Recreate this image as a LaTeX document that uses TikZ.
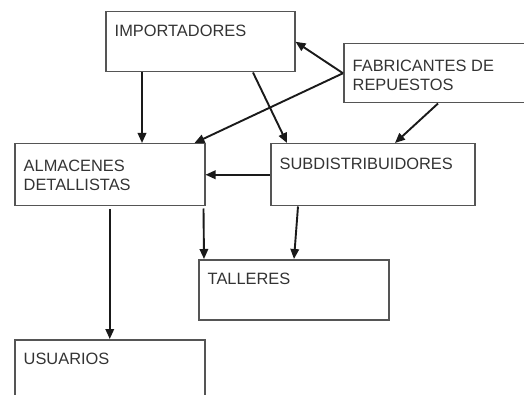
\documentclass[tikz,border=0pt]{standalone}
\usepackage{fontspec}
\setmainfont{Liberation Sans}
\usetikzlibrary{arrows.meta,calc}
\definecolor{boxc}{HTML}{555555}
\definecolor{txtc}{HTML}{333333}
\definecolor{arrc}{HTML}{1A1A1A}
\tikzset{
  box/.style={draw=boxc, line width=1.5pt, anchor=north west, inner sep=0pt, minimum width=#1},
  lbl/.style={anchor=north west, inner sep=0pt, text=txtc, align=left,
    font=\fontsize{16.4}{19}\selectfont, xshift=9.5pt},
  conn/.style={draw=arrc, line width=1.9pt, -{Triangle[length=10pt,width=8.5pt]}},
}
\begin{document}
\begin{tikzpicture}[x=1pt,y=-1pt]
\useasboundingbox (0,0) rectangle (524,395);
\clip (0,0) rectangle (524,395);
\node[box=189pt, minimum height=60pt, label={[lbl, yshift=-14pt]north west:IMPORTADORES}] (imp) at (105,11) {};
\node[box=200pt, minimum height=59pt, label={[lbl, yshift=-16.5pt]north west:FABRICANTES DE\\REPUESTOS}] (fab) at (343,43) {};
\node[box=190pt, minimum height=62pt, label={[lbl, yshift=-16.5pt]north west:ALMACENES\\DETALLISTAS}] (alm) at (14,143) {};
\node[box=204pt, minimum height=62pt, label={[lbl, yshift=-15pt]north west:SUBDISTRIBUIDORES}] (sub) at (270,143) {};
\node[box=190pt, minimum height=60pt, label={[lbl, yshift=-14pt]north west:TALLERES}] (tal) at (198,259) {};
\node[box=190pt, minimum height=75pt, label={[lbl, yshift=-14pt]north west:USUARIOS}] (usu) at (14,339) {};

\draw[conn] (fab.west) -- (imp.east);
\draw[conn] (fab.west) -- ($(alm.north east)+(-11,0)$);
\draw[conn] ($(imp.south west)+(37,0)$) -- ($(alm.north west)+(128,0)$);
\draw[conn] ($(imp.south west)+(148,0)$) -- ($(sub.north west)+(17,0)$);
\draw[conn] ($(fab.south west)+(95,0)$) -- ($(sub.north west)+(125,0)$);
\draw[conn] (sub.west) -- (alm.east);
\draw[conn] ($(alm.south)+(0,3)$) -- (usu.north);
\draw[conn] ($(alm.south east)+(-2,2)$) -- ($(tal.north west)+(6,0)$);
\draw[conn] ($(sub.south west)+(28,0)$) -- ($(tal.north west)+(96,0)$);
\end{tikzpicture}
\end{document}
